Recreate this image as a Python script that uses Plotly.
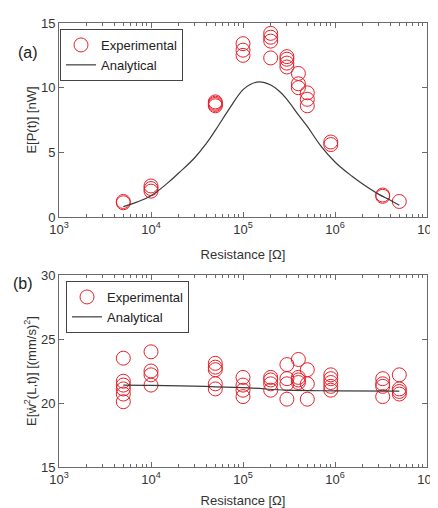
import plotly.graph_objects as go

# ---------- data ----------
# (a) power
exp_R_a = [5e3, 5e3,
           1e4, 1e4, 1e4,
           5e4, 5e4, 5e4, 5e4,
           1e5, 1e5, 1e5,
           2e5, 2e5, 2e5, 2e5,
           3e5, 3e5, 3e5, 3e5,
           4e5, 4e5, 4e5,
           5e5, 5e5, 5e5,
           9e5, 9e5,
           3.3e6, 3.3e6,
           5e6]
exp_P_a = [1.1, 1.2,
           2.4, 2.2, 2.0,
           8.9, 8.8, 8.7, 8.6,
           13.4, 12.9, 12.5,
           14.2, 13.9, 13.6, 12.3,
           12.4, 12.2, 11.9, 11.6,
           11.1, 10.3, 10.0,
           9.6, 9.1, 8.6,
           5.8, 5.6,
           1.7, 1.6,
           1.2]
ana_R_a = [5e3, 7e3, 1e4, 1.5e4, 2e4, 3e4, 4e4, 5e4, 7e4, 1e5, 1.2e5, 1.5e5, 2e5,
           2.5e5, 3e5, 4e5, 5e5, 7e5, 1e6, 1.2e6, 1.5e6, 2e6, 3e6, 4e6, 5e6]
ana_P_a = [0.8, 1.15, 1.65, 2.6, 3.4, 4.6, 5.7, 6.7, 8.3, 9.85, 10.25, 10.45, 10.2,
           9.7, 9.1, 7.9, 7.0, 5.5, 4.25, 3.75, 3.2, 2.55, 1.75, 1.3, 0.9]

# (b) mean square velocity
exp_R_b = [5e3]*6 + [1e4]*4 + [5e4]*5 + [1e5]*4 + [2e5]*4 + [3e5]*4 + \
          [4e5]*4 + [5e5]*3 + [9e5]*5 + [3.3e6]*4 + [5e6]*4
exp_V_b = [23.5, 21.7, 21.4, 21.1, 20.7, 20.1,
           24.0, 22.5, 22.2, 21.4,
           23.1, 22.8, 22.6, 21.5, 21.1,
           22.0, 21.4, 21.0, 20.5,
           22.0, 21.8, 21.5, 21.0,
           23.0, 21.9, 21.5, 20.3,
           23.4, 22.0, 21.8, 21.6,
           22.6, 21.5, 20.3,
           22.2, 21.9, 21.6, 21.3, 21.0,
           21.9, 21.5, 21.3, 20.5,
           22.2, 21.1, 20.9, 20.7]
ana_R_b = [5e3, 1e4, 1e5, 3e5, 1e6, 5e6]
ana_V_b = [21.4, 21.38, 21.2, 21.0, 20.95, 20.92]

x_tickvals = [1e3, 1e4, 1e5, 1e6, 1e7]
x_ticktext = ["10<sup>3</sup>", "10<sup>4</sup>", "10<sup>5</sup>", "10<sup>6</sup>", "10<sup>7</sup>"]

# ---------- figure ----------
OFF = 8                       # page body margin
W, H = 438 - OFF, 508 - OFF
ML, MR, MT, MB = 59 - OFF, 11, 23 - OFF, 41
PW, PH = W - ML - MR, H - MT - MB
RED = "#e8202a"
LINE = "#3a3a3a"
AX = "#6a6a6a"
FONT = "Liberation Sans, Arial, sans-serif"

fig = go.Figure()

def add(x, y, mode, name, xa, ya, leg, **kw):
    fig.add_trace(go.Scatter(x=x, y=y, mode=mode, name=name, xaxis=xa, yaxis=ya,
                             legend=leg, **kw))

mk = dict(symbol="circle-open", size=14, color=RED, line=dict(width=1, color=RED))
add(exp_R_a, exp_P_a, "markers", "Experimental", "x", "y", "legend", marker=mk)
add(ana_R_a, ana_P_a, "lines", "Analytical", "x", "y", "legend",
    line=dict(color=LINE, width=1.2, shape="spline", smoothing=1.2))
add(exp_R_b, exp_V_b, "markers", "Experimental", "x2", "y2", "legend2", marker=mk)
add(ana_R_b, ana_V_b, "lines", "Analytical", "x2", "y2", "legend2",
    line=dict(color=LINE, width=1.2, shape="spline"))

# reference-pixel -> paper coordinates
def px(X):
    return (X - OFF - ML) / PW

def py(Y):
    return (H - MB - (Y - OFF)) / PH

common_x = dict(type="log", range=[3, 7], tickvals=x_tickvals, ticktext=x_ticktext,
                automargin=False,
                showline=True, linecolor=AX, linewidth=1, mirror="allticks",
                ticks="inside", ticklen=5, tickcolor=AX, showgrid=False, zeroline=False,
                minor=dict(ticks="inside", ticklen=3, tickcolor=AX, dtick="D1", showgrid=False),
                tickfont=dict(size=13, color="#333333", family=FONT),
                title=dict(text="Resistance [Ω]", font=dict(size=13, color="#333333", family=FONT),
                           standoff=14))
common_y = dict(showline=True, linecolor=AX, linewidth=1, mirror="allticks", automargin=False,
                ticks="inside", ticklen=5, tickcolor=AX, showgrid=False, zeroline=False,
                tickfont=dict(size=13, color="#333333", family=FONT))

legend_style = dict(xanchor="left", yanchor="top",
                    bgcolor="white", bordercolor="#444444", borderwidth=1,
                    font=dict(size=13, color="#222222", family=FONT), tracegroupgap=0,
                    itemwidth=30)

fig.update_layout(
    width=W, height=H,
    margin=dict(l=ML, r=MR, t=MT, b=MB, autoexpand=False),
    paper_bgcolor="white", plot_bgcolor="white",
    font=dict(family=FONT, color="#333333"),
    xaxis=dict(domain=[0, 1], anchor="y", **common_x),
    yaxis=dict(domain=[py(217), py(23)], anchor="x", range=[0, 15], tickvals=[0, 5, 10, 15],
               title=dict(text="E[P(t)] [nW]", font=dict(size=13, family=FONT), standoff=1),
               **common_y),
    xaxis2=dict(domain=[0, 1], anchor="y2", **common_x),
    yaxis2=dict(domain=[py(467), py(275)], anchor="x2", range=[15, 30], tickvals=[15, 20, 25, 30],
                title=dict(text="E[ẇ<sup>2</sup>(L,t)] [(mm/s)<sup>2</sup>]",
                           font=dict(size=13, family=FONT), standoff=1),
                **common_y),
    legend=dict(x=px(60), y=py(29), **legend_style),
    legend2=dict(x=px(66), y=py(281), **legend_style),
    annotations=[
        dict(text="(a)", x=px(28), y=py(52), xref="paper", yref="paper",
             xanchor="center", yanchor="middle",
             showarrow=False, font=dict(size=16, color="#222222", family=FONT)),
        dict(text="(b)", x=px(23), y=py(283), xref="paper", yref="paper",
             xanchor="center", yanchor="middle",
             showarrow=False, font=dict(size=16, color="#222222", family=FONT)),
    ],
)

fig.write_html("out.html")
